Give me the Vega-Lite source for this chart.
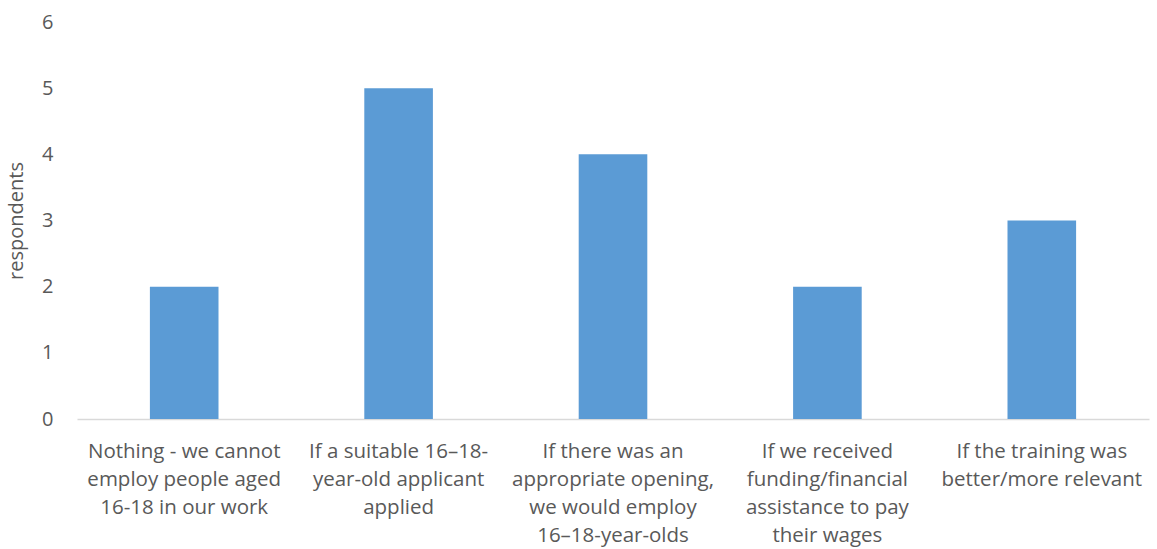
{
  "$schema": "https://vega.github.io/schema/vega-lite/v6.json",
  "width": 1072,
  "height": 397,
  "autosize": {"type": "none"},
  "padding": {"left": 77, "top": 22, "right": 8, "bottom": 130},
  "background": "white",
  "data": {
    "values": [
      {"option": "Nothing - we cannot|employ people aged|16-18 in our work", "respondents": 2},
      {"option": "If a suitable 16–18-|year-old applicant|applied", "respondents": 5},
      {"option": "If there was an|appropriate opening,|we would employ|16–18-year-olds", "respondents": 4},
      {"option": "If we received|funding/financial|assistance to pay|their wages", "respondents": 2},
      {"option": "If the training was|better/more relevant", "respondents": 3}
    ]
  },
  "mark": {"type": "bar", "color": "#5b9bd5"},
  "encoding": {
    "x": {
      "field": "option",
      "type": "nominal",
      "sort": null,
      "scale": {"paddingInner": 0.68, "paddingOuter": 0.34},
      "axis": {
        "title": null,
        "labelAngle": 0,
        "labelExpr": "split(datum.label, '|')",
        "labelFont": "Open Sans",
        "labelFontSize": 20.5,
        "labelColor": "#595959",
        "labelLineHeight": 28,
        "labelPadding": 22,
        "labelLimit": 300,
        "ticks": false,
        "domainColor": "#d9d9d9",
        "domainWidth": 1.5,
        "grid": false
      }
    },
    "y": {
      "field": "respondents",
      "type": "quantitative",
      "scale": {"domain": [0, 6]},
      "axis": {
        "title": "respondents",
        "titleFont": "Open Sans",
        "titleFontSize": 20,
        "titleFontWeight": "normal",
        "titleColor": "#595959",
        "titlePadding": 15,
        "values": [0, 1, 2, 3, 4, 5, 6],
        "labelFont": "Open Sans",
        "labelFontSize": 20,
        "labelColor": "#595959",
        "labelPadding": 24,
        "ticks": false,
        "domain": false,
        "grid": false
      }
    }
  },
  "config": {"view": {"stroke": null}}
}
